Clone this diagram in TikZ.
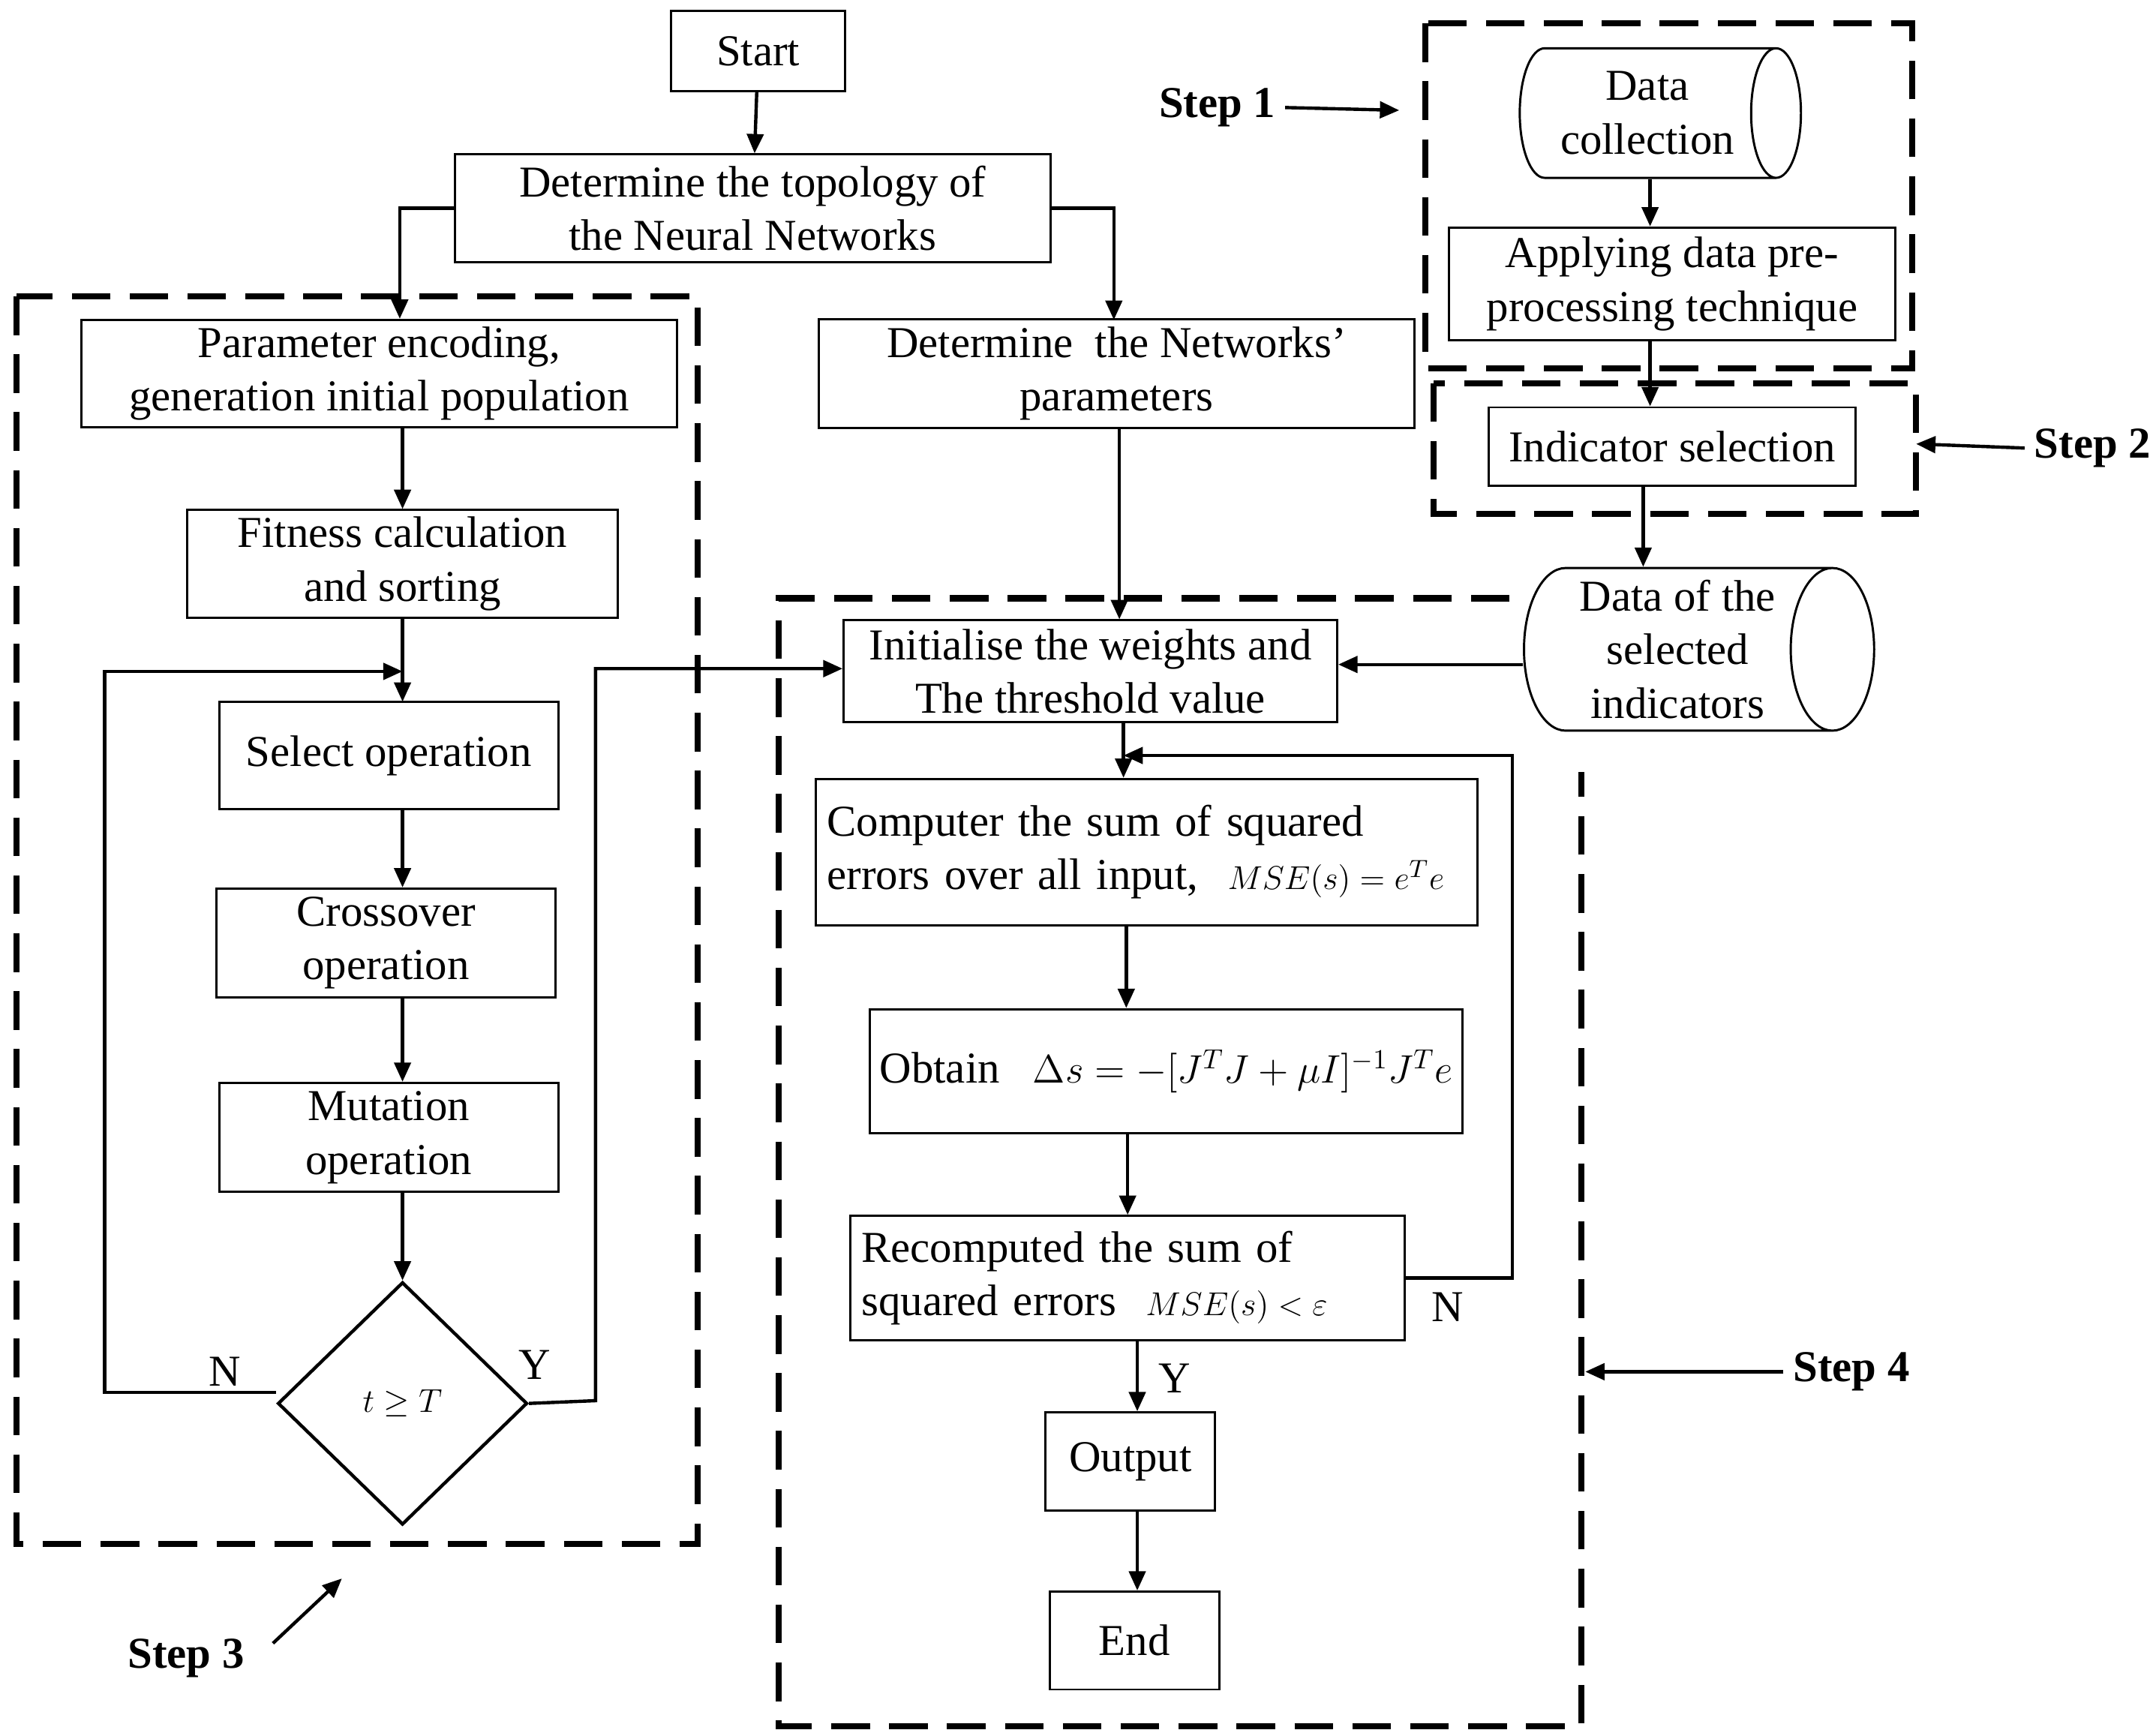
\documentclass[tikz,border=0pt]{standalone}
\usepackage{fontspec}
\setmainfont{Liberation Serif}
\usetikzlibrary{shapes.geometric,arrows.meta}
\begin{document}
\begin{tikzpicture}[x=0.5pt,y=-0.5pt,
  font=\fontsize{16}{19.5}\selectfont,
  box/.style={draw,line width=0.8pt,align=center,inner sep=0pt},
  cyl/.style={draw,line width=0.8pt,cylinder,shape aspect=0.6,align=center,inner sep=0pt},
  arr/.style={line width=1.2pt,-{Triangle[length=7pt,width=6pt]}},
  stepbox/.style={line width=2.2pt,dash pattern=on 14pt off 7pt},
  lab/.style={font=\fontsize{16}{19}\selectfont\bfseries}]
\useasboundingbox (0,0) rectangle (1564,1259);
\node[box,minimum width=63pt,minimum height=29pt] (start) at (550,37) {Start};
\node[box,minimum width=216pt,minimum height=39pt] (topo) at (546,151) {Determine the topology of\\the Neural Networks};
\node[box,minimum width=216pt,minimum height=39pt] (enc) at (275,271) {Parameter encoding,\\generation initial population};
\node[box,minimum width=216pt,minimum height=39.5pt] (par) at (810,271) {Determine\ \ the Networks'\\parameters};
\node[box,minimum width=156pt,minimum height=39pt] (fit) at (292,409) {Fitness calculation\\and sorting};
\node[box,minimum width=123pt,minimum height=39pt] (sel) at (282,548) {Select operation};
\node[box,minimum width=123pt,minimum height=39.5pt] (cro) at (280,684) {Crossover\\operation};
\node[box,minimum width=123pt,minimum height=39.5pt] (mut) at (282,825) {Mutation\\operation};
\node[draw,line width=1.2pt,diamond,minimum width=90.5pt,minimum height=88pt,inner sep=0pt] (dia) at (292,1018) {\fontsize{13}{15}\selectfont$t\geq T$};
\node[box,minimum width=179pt,minimum height=37pt] (ini) at (791,487) {Initialise the weights and\\The threshold value};
\node[box,minimum width=240pt,minimum height=53pt,align=left,text width=232pt] (com) at (832,618) {Computer the sum of squared\\errors over all input,\ \ {\fontsize{13}{15}\selectfont$MSE(s)=e^Te$}};
\node[box,minimum width=215pt,minimum height=45pt] (obt) at (846,777) {Obtain\ \ \ {\fontsize{14}{16}\selectfont$\Delta s=-[J^TJ+\mu I]^{-1}J^Te$}};
\node[box,minimum width=201pt,minimum height=45pt,align=left,text width=193pt] (rec) at (818,927) {Recomputed the sum of\\squared errors\ \ {\fontsize{13}{15}\selectfont$MSE(s)<\varepsilon$}};
\node[box,minimum width=61.5pt,minimum height=35.5pt] (out) at (820,1060) {Output};
\node[box,minimum width=61.5pt,minimum height=35.5pt] (end) at (823,1190) {End};
\node[cyl,minimum height=102pt,minimum width=47pt] (dc) at (1195,82) {Data\\collection};
\node[box,minimum width=162pt,minimum height=41pt] (app) at (1213,206) {Applying data pre-\\processing technique};
\node[box,minimum width=133pt,minimum height=28.5pt] (ind) at (1213,324) {Indicator selection};
\node[cyl,minimum height=127pt,minimum width=59pt] (dsi) at (1217,471) {Data of the\\selected\\indicators};
% dashed boxes
\draw[stepbox] (1034,17) rectangle (1387,267);
\draw[stepbox] (1040,278) rectangle (1390,373);
\draw[stepbox] (12,215) rectangle (506,1120);
\draw[stepbox] (1095,434) -- (565,434) -- (565,1252) -- (1147,1252) -- (1147,560);
% step labels
\node[lab] (s1) at (883,78) {Step 1};
\coordinate (s1e) at (1015,80);
\draw[arr] (s1.east) -- (s1e);
\node[lab] (s2) at (1518,325) {Step 2};
\coordinate (s2e) at (1390,322);
\draw[arr] (s2.west) -- (s2e);
\node[lab] (s3) at (135,1203) {Step 3};
\coordinate (s3a) at (198,1192); \coordinate (s3e) at (248,1145);
\draw[arr] (s3a) -- (s3e);
\node[lab] (s4) at (1343,995) {Step 4};
\coordinate (s4e) at (1150,995);
\draw[arr] (s4.west) -- (s4e);
% connectors
\draw[arr] (start) -- (topo);
\draw[arr] (topo.west) -| (enc.north -| 290,0);
\draw[arr] (topo.east) -| (808,232);
\draw[arr] (enc.south -| fit) -- (fit);
\draw[arr] (fit.south) -- (292,509);
\draw[arr] (sel.south -| 292,0) -- (cro.north -| 292,0);
\draw[arr] (cro.south -| 292,0) -- (mut.north -| 292,0);
\draw[arr] (mut.south -| dia) -- (dia.north);
\draw[arr] (dia.west |- 0,1010) -- (76,1010) -- (76,487) -- (292,487);
\node at (163,995) {N};
\draw[arr] (dia.east) -- (432,1016) -- (432,485) -- (ini.west |- 0,485);
\node at (388,990) {Y};
\draw[arr] (par.south -| 812,0) -- (ini.north -| 812,0);
\draw[arr] (dsi.west |- 0,482) -- (ini.east |- 0,482);
\draw[arr] (dc.south -| 1197,0) -- (app.north -| 1197,0);
\draw[arr] (app.south -| 1197,0) -- (ind.north -| 1197,0);
\draw[arr] (ind.south -| 1192,0) -- (dsi.north -| 1192,0);
\draw[arr] (ini.south -| 815,0) -- (com.north -| 815,0);
\draw[arr] (rec.east) -- (1097,927) -- (1097,548) -- (815,548);
\node at (1050,948) {N};
\draw[arr] (com.south -| 817,0) -- (obt.north -| 817,0);
\draw[arr] (obt.south -| 818,0) -- (rec.north -| 818,0);
\draw[arr] (rec.south -| 825,0) -- (out.north -| 825,0);
\node at (852,1000) {Y};
\draw[arr] (out.south -| 825,0) -- (end.north -| 825,0);
\end{tikzpicture}
\end{document}
